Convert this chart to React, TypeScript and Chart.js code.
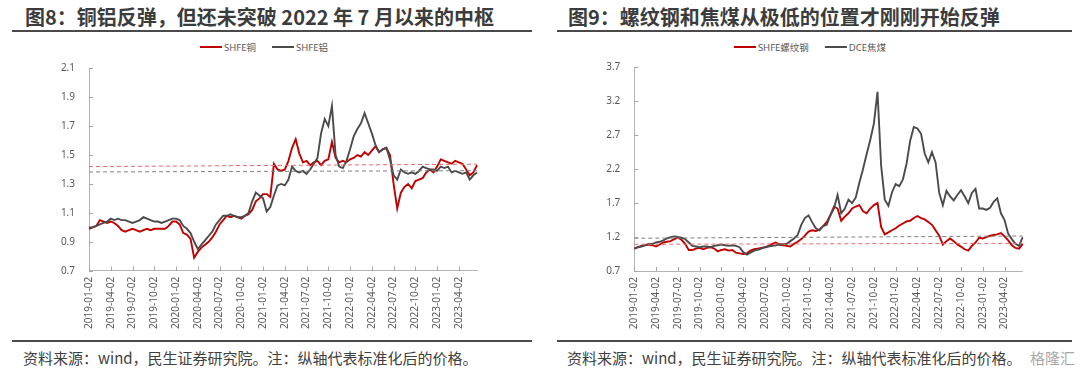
import React, { useEffect, useRef } from "react";
import { Chart, registerables } from "chart.js";

Chart.register(...registerables);

// ---------- categories (semi-monthly sample dates) ----------
const categories: string[] = [];
for (let y = 2019; y <= 2023; y++) {
  for (let mo = 1; mo <= 12; mo++) {
    if (y === 2023 && mo > 6) break;
    const mm = mo < 10 ? "0" + mo : String(mo);
    categories.push(`${y}-${mm}-02`, `${y}-${mm}-16`);
  }
}

const tickLabels = [
  "2019-01-02", "2019-04-02", "2019-07-02", "2019-10-02",
  "2020-01-02", "2020-04-02", "2020-07-02", "2020-10-02",
  "2021-01-02", "2021-04-02", "2021-07-02", "2021-10-02",
  "2022-01-02", "2022-04-02", "2022-07-02", "2022-10-02",
  "2023-01-02", "2023-04-02",
];

// ---------- figure 8 ----------
const copper = [
  0.99, 1.0, 1.01, 1.05, 1.04, 1.03, 1.04, 1.03, 1.01, 0.98, 0.97, 0.98, 0.99, 0.98, 0.97, 0.98, 0.99, 0.98, 0.99, 0.99, 0.99, 0.99, 1.01, 1.04,
  1.04, 1.02, 0.96, 0.95, 0.92, 0.79, 0.83, 0.86, 0.88, 0.9, 0.93, 0.97, 1.02, 1.05, 1.08, 1.07, 1.08, 1.07, 1.06, 1.08, 1.09, 1.12, 1.18, 1.2,
  1.23, 1.23, 1.21, 1.44, 1.4, 1.39, 1.4, 1.46, 1.55, 1.61, 1.51, 1.45, 1.46, 1.43, 1.45, 1.46, 1.43, 1.46, 1.47, 1.59, 1.48, 1.45, 1.46, 1.45,
  1.47, 1.48, 1.5, 1.49, 1.52, 1.5, 1.53, 1.56, 1.52, 1.54, 1.55, 1.5, 1.3, 1.13, 1.24, 1.28, 1.3, 1.27, 1.32, 1.33, 1.34, 1.38, 1.4, 1.38,
  1.42, 1.47, 1.46, 1.45, 1.44, 1.46, 1.45, 1.44, 1.4, 1.36, 1.38, 1.43,
];
const aluminum = [
  1.0, 1.0, 1.01, 1.02, 1.03, 1.04, 1.06, 1.05, 1.06, 1.05, 1.05, 1.04, 1.03, 1.04, 1.05, 1.07, 1.06, 1.05, 1.04, 1.04, 1.03, 1.04, 1.05, 1.06,
  1.06, 1.05, 1.01, 0.99, 0.96, 0.9, 0.85, 0.88, 0.91, 0.94, 0.97, 1.02, 1.05, 1.08, 1.08, 1.09, 1.08, 1.07, 1.07, 1.08, 1.1, 1.18, 1.24, 1.22,
  1.2, 1.11, 1.14, 1.22, 1.29, 1.3, 1.29, 1.33, 1.42, 1.39, 1.38, 1.39, 1.37, 1.4, 1.44, 1.48, 1.65, 1.75, 1.7, 1.84, 1.5, 1.42, 1.41, 1.46,
  1.54, 1.63, 1.68, 1.72, 1.79, 1.72, 1.65, 1.57, 1.52, 1.54, 1.55, 1.47, 1.36, 1.33, 1.4, 1.38, 1.37, 1.38, 1.37, 1.39, 1.42, 1.41, 1.4, 1.4,
  1.39, 1.42, 1.41, 1.42, 1.38, 1.39, 1.38, 1.37, 1.38, 1.33, 1.36, 1.38,
];
const copperRef = [1.42, 1.437];
const aluminumRef = [1.383, 1.392];

// ---------- figure 9 ----------
const rebar = [
  1.03, 1.05, 1.07, 1.08, 1.09, 1.08, 1.06, 1.09, 1.12, 1.13, 1.14, 1.17, 1.19, 1.16, 1.1, 1.01, 1.01, 1.03, 1.04, 1.02, 1.04, 1.05, 1.03, 0.99,
  1.01, 1.02, 1.0, 1.01, 0.97, 0.96, 0.95, 0.96, 1.0, 1.02, 1.03, 1.04, 1.05, 1.07, 1.1, 1.12, 1.09, 1.08, 1.07, 1.06, 1.1, 1.13, 1.17, 1.22,
  1.28, 1.3, 1.29, 1.31, 1.36, 1.42, 1.52, 1.65, 1.62, 1.44, 1.5, 1.55, 1.62, 1.65, 1.67, 1.58, 1.55, 1.62, 1.67, 1.7, 1.35, 1.24, 1.27, 1.3,
  1.33, 1.37, 1.4, 1.43, 1.44, 1.48, 1.51, 1.48, 1.46, 1.42, 1.38, 1.3, 1.22, 1.09, 1.14, 1.18, 1.14, 1.09, 1.06, 1.02, 1.0, 1.07, 1.12, 1.19,
  1.18, 1.2, 1.22, 1.23, 1.24, 1.26, 1.21, 1.15, 1.08, 1.04, 1.03, 1.1,
];
const cokingCoal = [
  1.03, 1.05, 1.06, 1.08, 1.1, 1.1, 1.12, 1.13, 1.15, 1.18, 1.2, 1.21, 1.2, 1.19, 1.17, 1.12, 1.07, 1.06, 1.05, 1.06, 1.06, 1.05, 1.07, 1.08,
  1.09, 1.08, 1.07, 1.08, 1.07, 1.05, 0.98, 0.94, 0.97, 1.0, 1.01, 1.03, 1.05, 1.06, 1.07, 1.08, 1.09, 1.1, 1.1, 1.14, 1.18, 1.23, 1.38, 1.48,
  1.52, 1.42, 1.33, 1.3, 1.36, 1.38, 1.52, 1.62, 1.82, 1.55, 1.62, 1.75, 1.7, 1.78, 2.0, 2.2, 2.42, 2.63, 2.87, 3.34, 2.25, 1.75, 1.66, 1.86,
  1.98, 1.95, 2.05, 2.28, 2.62, 2.82, 2.8, 2.72, 2.43, 2.3, 2.45, 2.3, 1.85, 1.67, 1.88, 1.8, 1.74, 1.82, 1.89, 1.8, 1.7, 1.85, 1.91, 1.62,
  1.62, 1.6, 1.63, 1.72, 1.77, 1.55, 1.45, 1.25, 1.17, 1.1, 1.07, 1.2,
];
const rebarRef = [1.093, 1.108];
const cokingCoalRef = [1.182, 1.215];

const RED = "#C00000";
const GRAY = "#4B4B4B";
const RED_DASH = "#E46C6C";
const GRAY_DASH = "#808080";
const TEXT = "#595959";
const FONT = '"Noto Sans", "Noto Sans CJK SC", sans-serif';
const CJK = '"Noto Sans CJK SC", "Noto Sans", sans-serif';

const innerTicks = {
  id: "innerTicks",
  afterDraw(chart: any) {
    const { ctx, chartArea, scales } = chart;
    ctx.save();
    ctx.strokeStyle = "#a6a6a6";
    ctx.lineWidth = 1;
    ctx.beginPath();
    scales.x.ticks.forEach((t: any) => {
      const px = Math.round(scales.x.getPixelForValue(t.value)) + 0.5;
      ctx.moveTo(px, chartArea.bottom);
      ctx.lineTo(px, chartArea.bottom - 4);
    });
    scales.y.ticks.forEach((t: any) => {
      const py = Math.round(scales.y.getPixelForValue(t.value)) + 0.5;
      ctx.moveTo(chartArea.left, py);
      ctx.lineTo(chartArea.left + 4, py);
    });
    ctx.stroke();
    ctx.restore();
  },
};

type PanelProps = {
  left: number;
  names: string[];
  a: number[];
  b: number[];
  aRef: number[];
  bRef: number[];
  yMin: number;
  yMax: number;
  step: number;
  yWidth: number;
  rightPad: number;
  topPad: number;
  xHeight: number;
};

const CW = 446;
const CH = 302;

function ChartCanvas(p: PanelProps) {
  const ref = useRef<HTMLCanvasElement | null>(null);
  useEffect(() => {
    if (!ref.current) return;
    const last = categories[categories.length - 1];
    const first = categories[0];
    const chart = new Chart(ref.current, {
      type: "line",
      data: {
        labels: categories,
        datasets: [
          {
            label: p.names[0] + " ref",
            data: [
              { x: first, y: p.aRef[0] },
              { x: last, y: p.aRef[1] },
            ] as any,
            borderColor: RED_DASH,
            borderWidth: 1,
            borderDash: [4, 3],
            pointRadius: 0,
          },
          {
            label: p.names[1] + " ref",
            data: [
              { x: first, y: p.bRef[0] },
              { x: last, y: p.bRef[1] },
            ] as any,
            borderColor: GRAY_DASH,
            borderWidth: 1,
            borderDash: [4, 3],
            pointRadius: 0,
          },
          {
            label: p.names[1],
            data: p.b,
            borderColor: GRAY,
            borderWidth: 1.9,
            pointRadius: 0,
          },
          {
            label: p.names[0],
            data: p.a,
            borderColor: RED,
            borderWidth: 1.9,
            pointRadius: 0,
          },
        ],
      },
      options: {
        animation: false,
        responsive: false,
        devicePixelRatio: 1,
        layout: { padding: { top: p.topPad, right: p.rightPad, left: 0, bottom: 0 } },
        plugins: { legend: { display: false }, tooltip: { enabled: false } },
        elements: { line: { tension: 0 } },
        scales: {
          x: {
            type: "category",
            offset: false,
            grid: { display: false, drawTicks: false },
            border: { display: true, color: "#b3b3b3" },
            ticks: {
              autoSkip: false,
              minRotation: 90,
              maxRotation: 90,
              padding: 6,
              color: TEXT,
              font: { family: FONT, size: 10 },
            },
            afterBuildTicks: (s: any) => {
              s.ticks = tickLabels.map((l) => ({ value: categories.indexOf(l) }));
            },
            afterFit: (s: any) => {
              s.height = p.xHeight;
            },
          },
          y: {
            min: p.yMin,
            max: p.yMax,
            grid: { display: false, drawTicks: false },
            border: { display: true, color: "#b3b3b3" },
            ticks: {
              stepSize: p.step,
              padding: 14,
              color: TEXT,
              font: { family: FONT, size: 10 },
              callback: (v: any) => Number(v).toFixed(1),
            },
            afterFit: (s: any) => {
              s.width = p.yWidth;
            },
          },
        },
      },
      plugins: [innerTicks],
    });
    return () => chart.destroy();
  }, []);
  return (
    <canvas
      ref={ref}
      width={CW}
      height={CH}
      style={{ position: "absolute", left: p.left, top: 36, width: CW, height: CH }}
    />
  );
}

function Legend({ names, center }: { names: string[]; center: number }) {
  const colors = [RED, GRAY];
  return (
    <div
      style={{
        position: "absolute",
        left: center,
        top: 41,
        height: 12,
        transform: "translateX(-50%)",
        display: "flex",
        alignItems: "center",
        whiteSpace: "nowrap",
        fontFamily: FONT,
        fontSize: 9.5,
        color: TEXT,
      }}
    >
      {names.map((n, i) => (
        <div key={n} style={{ display: "flex", alignItems: "center", marginLeft: i ? 16 : 0 }}>
          <span style={{ display: "inline-block", width: 22, height: 2, background: colors[i], marginRight: 2 }} />
          <span>{n}</span>
        </div>
      ))}
    </div>
  );
}

function Panel(props: {
  x0: number;
  lineW: number;
  titleX: number;
  title: string;
  footX: number;
  legendCenter: number;
  chart: PanelProps;
}) {
  return (
    <>
      <div
        style={{
          position: "absolute",
          left: props.titleX,
          top: 5,
          lineHeight: "24px",
          fontSize: 20,
          fontWeight: 700,
          fontFamily: CJK,
          color: "#3c3c3c",
          whiteSpace: "nowrap",
        }}
      >
        {props.title}
      </div>
      <div style={{ position: "absolute", left: props.x0, top: 30, width: props.lineW, height: 2, background: "#4a4a4a" }} />
      <Legend names={props.chart.names} center={props.legendCenter} />
      <ChartCanvas {...props.chart} />
      <div style={{ position: "absolute", left: props.x0, top: 340, width: props.lineW, height: 2, background: "#4a4a4a" }} />
      <div
        style={{
          position: "absolute",
          left: props.footX,
          top: 348,
          lineHeight: "20px",
          fontSize: 15,
          fontFamily: CJK,
          color: "#404040",
          whiteSpace: "nowrap",
        }}
      >
        资料来源：wind，民生证券研究院。注：纵轴代表标准化后的价格。
      </div>
    </>
  );
}

export default function App() {
  return (
    <div
      style={{
        position: "absolute",
        left: 0,
        top: 0,
        width: 1080,
        height: 374,
        background: "#ffffff",
        overflow: "hidden",
      }}
    >
      <Panel
        x0={12}
        lineW={520}
        titleX={25}
        title="图8：铜铝反弹，但还未突破 2022 年 7 月以来的中枢"
        footX={23}
        legendCenter={264}
        chart={{
          left: 40,
          names: ["SHFE铜", "SHFE铝"],
          a: copper,
          b: aluminum,
          aRef: copperRef,
          bRef: aluminumRef,
          yMin: 0.7,
          yMax: 2.1,
          step: 0.2,
          yWidth: 49,
          rightPad: 9,
          topPad: 32.3,
          xHeight: 67.3,
        }}
      />
      <Panel
        x0={557}
        lineW={515}
        titleX={568}
        title="图9：螺纹钢和焦煤从极低的位置才刚刚开始反弹"
        footX={567}
        legendCenter={810}
        chart={{
          left: 590,
          names: ["SHFE螺纹钢", "DCE焦煤"],
          a: rebar,
          b: cokingCoal,
          aRef: rebarRef,
          bRef: cokingCoalRef,
          yMin: 0.7,
          yMax: 3.7,
          step: 0.5,
          yWidth: 44.3,
          rightPad: 13.3,
          topPad: 31.3,
          xHeight: 67,
        }}
      />
      <div
        style={{
          position: "absolute",
          left: 1030,
          top: 348,
          lineHeight: "20px",
          fontSize: 15,
          fontFamily: CJK,
          color: "rgba(150,150,150,0.85)",
          background: "rgba(255,255,255,0.6)",
          whiteSpace: "nowrap",
        }}
      >
        格隆汇
      </div>
    </div>
  );
}
